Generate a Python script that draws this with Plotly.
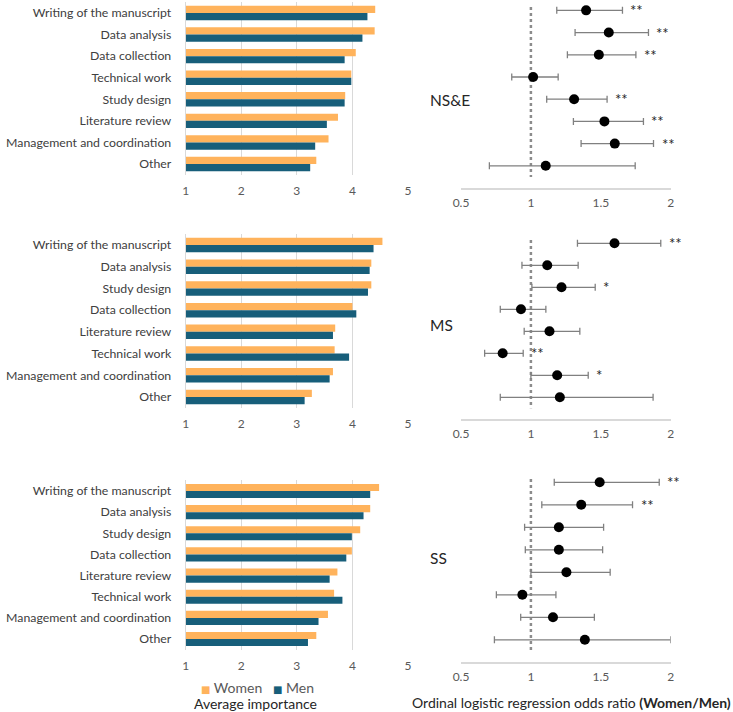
import plotly.graph_objects as go

W, H = 733, 712
FONT = "Lato"

# ---------------- data ----------------
panels = ["NS&E", "MS", "SS"]

cats_nse = ["Writing of the manuscript", "Data analysis", "Data collection", "Technical work",
            "Study design", "Literature review", "Management and coordination", "Other"]
women_nse = [4.41, 4.40, 4.06, 3.98, 3.87, 3.74, 3.57, 3.35]
men_nse = [4.27, 4.18, 3.86, 3.98, 3.86, 3.54, 3.33, 3.24]
or_nse = [1.395, 1.557, 1.486, 1.016, 1.309, 1.526, 1.600, 1.106]
lo_nse = [1.185, 1.316, 1.261, 0.863, 1.113, 1.304, 1.359, 0.703]
hi_nse = [1.655, 1.841, 1.751, 1.195, 1.545, 1.805, 1.877, 1.746]
sig_nse = ["**", "**", "**", "", "**", "**", "**", ""]

cats_ms = ["Writing of the manuscript", "Data analysis", "Study design", "Data collection",
           "Literature review", "Technical work", "Management and coordination", "Other"]
women_ms = [4.54, 4.34, 4.34, 4.00, 3.69, 3.68, 3.65, 3.27]
men_ms = [4.38, 4.31, 4.28, 4.07, 3.65, 3.94, 3.59, 3.14]
or_ms = [1.598, 1.117, 1.219, 0.929, 1.133, 0.798, 1.188, 1.207]
lo_ms = [1.333, 0.936, 1.007, 0.781, 0.952, 0.669, 1.000, 0.781]
hi_ms = [1.929, 1.338, 1.460, 1.107, 1.350, 0.945, 1.410, 1.874]
sig_ms = ["**", "", "*", "", "", "**", "*", ""]

cats_ss = ["Writing of the manuscript", "Data analysis", "Study design", "Data collection",
           "Literature review", "Technical work", "Management and coordination", "Other"]
women_ss = [4.48, 4.32, 4.14, 3.99, 3.73, 3.67, 3.56, 3.35]
men_ss = [4.32, 4.20, 3.99, 3.89, 3.59, 3.82, 3.39, 3.20]
or_ss = [1.492, 1.360, 1.200, 1.200, 1.254, 0.939, 1.158, 1.386]
lo_ss = [1.167, 1.078, 0.955, 0.960, 1.000, 0.753, 0.927, 0.739]
hi_ss = [1.918, 1.727, 1.520, 1.513, 1.567, 1.179, 1.454, 2.000]
sig_ss = ["**", "**", "", "", "", "", "", ""]

bar_ticks = [1, 2, 3, 4, 5]
or_ticks = [0.5, 1, 1.5, 2]
or_tick_text = ["0.5", "1", "1.5", "2"]

legend_names = ["Women", "Men"]
bar_title = "Average importance"
or_title = "Ordinal logistic regression odds ratio <b>(Women/Men)</b>"

# ---------------- styles ----------------
ORANGE = "#FFB35C"
TEAL = "#175E7A"
GRID = "#D9D9D9"
TXT = "#404040"
TICK = "#595959"

# pixel layout (top, bottom)
bar_px = [(2.2, 174.8), (234.2, 407.8), (480.4, 649.6)]
or_px = [(0.6, 188.0), (233.6, 419.3), (472.4, 662.3)]
bar_x = (185.7, 408.0)
or_x = (461.0, 670.7)
label_y = [100, 325, 558]


def yd(px):
    return [1 - px[1] / H, 1 - px[0] / H]


def xd(px):
    return [px[0] / W, px[1] / W]


data = [
    (cats_nse, women_nse, men_nse, or_nse, lo_nse, hi_nse, sig_nse),
    (cats_ms, women_ms, men_ms, or_ms, lo_ms, hi_ms, sig_ms),
    (cats_ss, women_ss, men_ss, or_ss, lo_ss, hi_ss, sig_ss),
]

fig = go.Figure()
layout = dict(
    width=W, height=H,
    margin=dict(l=0, r=0, t=0, b=0, autoexpand=False),
    paper_bgcolor="white", plot_bgcolor="white",
    font=dict(family=FONT, color=TXT, size=13),
    barmode="group", bargap=0.33, bargroupgap=0.0,
    showlegend=False,
    annotations=[], shapes=[],
)

for k, (cats, wv, mv, orv, lo, hi, sig) in enumerate(data):
    bx = 2 * k + 1
    ox = 2 * k + 2
    sx = "" if bx == 1 else str(bx)
    so = str(ox)
    fig.add_trace(go.Bar(y=cats, x=wv, orientation="h", name=legend_names[0],
                         marker=dict(color=ORANGE, line=dict(width=0)),
                         xaxis="x" + sx, yaxis="y" + sx, legendgroup="w"))
    fig.add_trace(go.Bar(y=cats, x=mv, orientation="h", name=legend_names[1],
                         marker=dict(color=TEAL, line=dict(width=0)),
                         xaxis="x" + sx, yaxis="y" + sx, legendgroup="m"))
    fig.add_trace(go.Scatter(
        y=cats, x=orv, mode="markers",
        marker=dict(color="black", size=10),
        error_x=dict(type="data", symmetric=False,
                     array=[h - o for h, o in zip(hi, orv)],
                     arrayminus=[o - l for o, l in zip(orv, lo)],
                     color="#808080", thickness=1.3, width=3.5),
        xaxis="x" + so, yaxis="y" + so, cliponaxis=False))

    layout["xaxis" + sx] = dict(domain=xd(bar_x), range=[1, 5], tickvals=bar_ticks,
                                showgrid=True, gridcolor=GRID, gridwidth=1, zeroline=False,
                                showline=False, anchor="y" + sx, ticks="", automargin=False,
                                ticklabelstandoff=7,
                                tickfont=dict(size=12, color=TICK, family=FONT))
    layout["yaxis" + sx] = dict(domain=yd(bar_px[k]), type="category", autorange="reversed",
                                showline=True, linecolor=GRID, linewidth=1, automargin=False,
                                showgrid=False, anchor="x" + sx, ticks="",
                                ticklabelstandoff=11,
                                tickfont=dict(size=12.3, color=TXT, family=FONT))
    layout["xaxis" + so] = dict(domain=xd(or_x), range=[0.5, 2], tickvals=or_ticks,
                                ticktext=or_tick_text, automargin=False,
                                showgrid=False, zeroline=False, showline=True,
                                linecolor=GRID, linewidth=1.5, anchor="y" + so, ticks="",
                                ticklabelstandoff=3,
                                tickfont=dict(size=12, color=TICK, family=FONT))
    layout["yaxis" + so] = dict(domain=yd(or_px[k]), type="category", range=[8, -0.44],
                                categoryorder="array", categoryarray=cats, automargin=False,
                                showgrid=False, showline=False, showticklabels=False,
                                zeroline=False, anchor="x" + so, ticks="")
    layout["shapes"].append(dict(type="line", xref="x" + so, yref="y" + so,
                                 x0=1, x1=1, y0=-0.15, y1=7.5,
                                 line=dict(color="#8C8C8C", width=2.5, dash="dot"),
                                 layer="below"))
    for c, h, s in zip(cats, hi, sig):
        if s:
            layout["annotations"].append(dict(
                x=h, y=c, xref="x" + so, yref="y" + so, text=s, showarrow=False,
                xanchor="left", yanchor="middle", xshift=6,
                font=dict(size=15, color="#262626", family=FONT)))
    layout["annotations"].append(dict(
        x=428 / W, y=1 - label_y[k] / H, xref="paper", yref="paper", text=panels[k],
        showarrow=False, xanchor="left", yanchor="middle",
        font=dict(size=15.5, color="#262626", family=FONT)))

# legend (as text with coloured squares)
legend_text = ("<span style='color:%s;font-family:DejaVu Sans;font-size:10px'>■</span> %s"
               "   <span style='color:%s;font-family:DejaVu Sans;font-size:10px'>■</span> %s"
               % (ORANGE, legend_names[0], TEAL, legend_names[1]))
layout["annotations"].append(dict(
    x=257 / W, y=1 - 687 / H, xref="paper", yref="paper", text=legend_text, showarrow=False,
    xanchor="center", yanchor="middle", font=dict(size=14, color=TICK, family=FONT)))

layout["annotations"].append(dict(
    x=255 / W, y=1 - 703 / H, xref="paper", yref="paper", text=bar_title, showarrow=False,
    xanchor="center", yanchor="middle", font=dict(size=14, color="#262626", family=FONT)))
layout["annotations"].append(dict(
    x=571 / W, y=1 - 702 / H, xref="paper", yref="paper", text=or_title, showarrow=False,
    xanchor="center", yanchor="middle", font=dict(size=14, color="#262626", family=FONT)))

fig.update_layout(**layout)
fig.write_html("out.html", config={"displayModeBar": False},
               post_script="document.body.style.margin='0px';document.body.style.overflow='hidden';")
